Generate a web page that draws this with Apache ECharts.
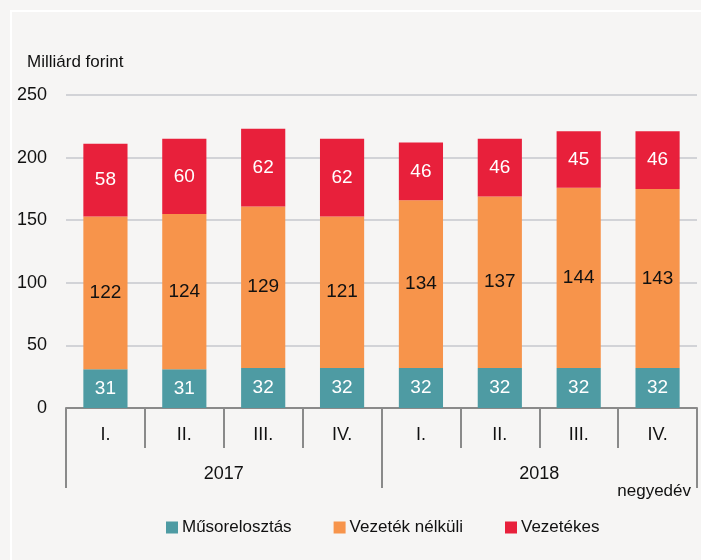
<!DOCTYPE html>
<html>
<head>
<meta charset="utf-8">
<script src="https://cdn.jsdelivr.net/npm/echarts@6/dist/echarts.min.js"></script>
<style>
  html, body { margin: 0; padding: 0; background: #f6f5f4; }
  #chart-container { width: 701px; height: 560px; }
</style>
</head>
<body>
<div id="chart-container"></div>
<script>
// adatok
var quarters = ['I.', 'II.', 'III.', 'IV.', 'I.', 'II.', 'III.', 'IV.'];
var years = ['2017', '2018'];
var musorelosztas = [31, 31, 32, 32, 32, 32, 32, 32];
var vezetekNelkuli = [122, 124, 129, 121, 134, 137, 144, 143];
var vezetekes = [58, 60, 62, 62, 46, 46, 45, 46];

var font = '"Liberation Sans", Arial, sans-serif';
var chart = echarts.init(document.getElementById('chart-container'));

var option = {
    backgroundColor: '#f6f5f4',
    textStyle: { fontFamily: font },
    title: { // tengely felirat
        text: 'Milliárd forint',
        left: 22,
        top: 49,
        textStyle: { fontFamily: font, fontSize: 17, fontWeight: 'normal', color: '#111' }
    },
    graphic: [
        { type: 'rect', shape: { x: 11, y: 11, width: 720, height: 600 }, style: { fill: 'none', stroke: '#ffffff', lineWidth: 2 }, silent: true },
        { type: 'text', right: 10, top: 483, style: { text: 'negyedév', font: '17px ' + font, fill: '#111' } }
    ],
    grid: {
        left: 66,
        right: 4,
        top: 95,
        bottom: 152
    },
    legend: {
        bottom: 19,
        left: 161,
        itemWidth: 12,
        itemHeight: 12,
        itemGap: 42,
        icon: 'rect',
        textStyle: { fontFamily: font, fontSize: 17, color: '#111', padding: [0, 0, 0, -1] },
        data: ['Műsorelosztás', 'Vezeték nélküli', 'Vezetékes']
    },
    xAxis: [{
            type: 'category',
            data: quarters,
            axisLine: { lineStyle: { color: '#8a8a8a', width: 2 } },
            axisTick: { show: true, length: 40, interval: 0, lineStyle: { color: '#8a8a8a', width: 2 } },
            axisLabel: { fontSize: 18, color: '#111', margin: 18, interval: 0 }
        },
        {
            type: 'category',
            data: years,
            position: 'bottom',
            offset: 40,
            axisLine: { show: false },
            axisTick: { show: true, length: 40, interval: 0, lineStyle: { color: '#8a8a8a', width: 2 } },
            axisLabel: { fontSize: 18, color: '#111', margin: 17 }
        }
    ],
    yAxis: {
        type: 'value',
        min: 0,
        max: 250,
        interval: 50,
        axisLine: { show: false },
        axisTick: { show: false },
        axisLabel: { fontSize: 18, color: '#111', margin: 19 },
        splitLine: { lineStyle: { color: '#d2d3d7', width: 2 } }
    },
    series: [{
            name: 'Műsorelosztás',
            type: 'bar',
            stack: 'osszes',
            barWidth: '56%',
            data: musorelosztas,
            itemStyle: { color: '#4e9ba3' },
            label: { show: true, position: 'inside', color: '#fff', fontSize: 19, fontFamily: font }
        },
        {
            name: 'Vezeték nélküli',
            type: 'bar',
            stack: 'osszes',
            data: vezetekNelkuli,
            itemStyle: { color: '#f7944b' },
            label: { show: true, position: 'inside', color: '#111', fontSize: 19, fontFamily: font }
        },
        {
            name: 'Vezetékes',
            type: 'bar',
            stack: 'osszes',
            data: vezetekes,
            itemStyle: { color: '#e8203b' },
            label: { show: true, position: 'inside', color: '#fff', fontSize: 19, fontFamily: font }
        }
    ]
};

chart.setOption(option);
</script>
</body>
</html>
